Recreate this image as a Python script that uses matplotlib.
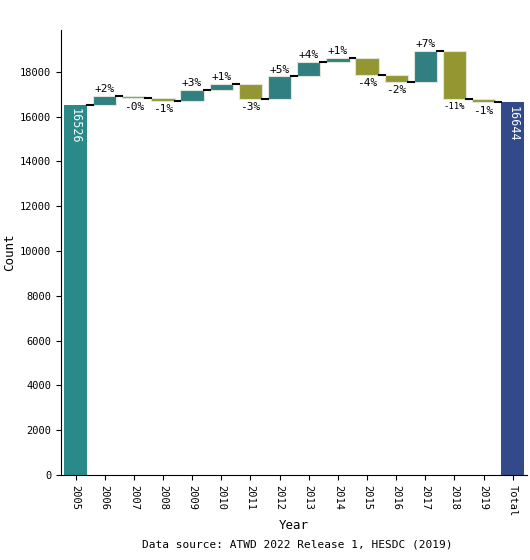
import matplotlib
matplotlib.use("Agg")
import matplotlib.pyplot as plt

years = ["2005","2006","2007","2008","2009","2010","2011","2012","2013","2014","2015","2016","2017","2018","2019","Total"]
levels = [16526,16930,16810,16690,17200,17465,16780,17790,18445,18625,17870,17555,18925,16800,16644]
pct_labels = ["+2%","-0%","-1%","+3%","+1%","-3%","+5%","+4%","+1%","-4%","-2%","+7%","-11%","-1%"]

plt.rcParams['font.family'] = ['DejaVu Sans Mono']
fig = plt.figure(figsize=(5.3,5.6), dpi=100)
ax = fig.add_axes([0.115, 0.152, 0.88, 0.795])
up_c, down_c = "#327f82", "#949632"
x = range(len(years))
ax.bar(0, levels[0], width=0.8, color="#2a8a8a")
ax.text(0, levels[0]-150, str(levels[0]), rotation=270, ha='center', va='top', color='white', fontsize=8.5)
for i in range(1, len(levels)):
    prev, cur = levels[i-1], levels[i]
    c = up_c if cur >= prev else down_c
    ax.bar(i, cur-prev, bottom=prev, width=0.8, color=c, edgecolor="#dde6d8", linewidth=0.8)
    ax.plot([i-1+0.4, i-0.4], [prev, prev], color='black', lw=1.5)
    lab = pct_labels[i-1]
    fs = 6.5 if lab == "-11%" else 8
    if cur >= prev:
        ax.text(i, cur+80, lab, ha='center', va='bottom', fontsize=fs)
    else:
        ax.text(i, cur-150, lab, ha='center', va='top', fontsize=fs)
n = len(years)-1
ax.plot([n-1+0.4, n-0.4], [levels[-1], levels[-1]], color='black', lw=1.5)
ax.bar(n, levels[-1], width=0.8, color="#324a89")
ax.text(n, levels[-1]-150, str(levels[-1]), rotation=270, ha='center', va='top', color='white', fontsize=8.5)

ax.set_xlim(-0.5, n+0.5)
ax.set_ylim(0, 19880)
ax.set_yticks(range(0, 18001, 2000))
ax.set_xticks(list(x))
ax.set_xticklabels(years, rotation=270, fontsize=7.5)
ax.tick_params(axis='y', labelsize=7.5)
for s in ['top','right']:
    ax.spines[s].set_visible(False)
ax.set_xlabel("Year", fontsize=9, labelpad=2)
ax.set_ylabel("Count", fontsize=9, labelpad=3)
fig.text(0.56, 0.022, "Data source: ATWD 2022 Release 1, HESDC (2019)", ha='center', fontsize=8)
fig.savefig("out.png", dpi=100)
